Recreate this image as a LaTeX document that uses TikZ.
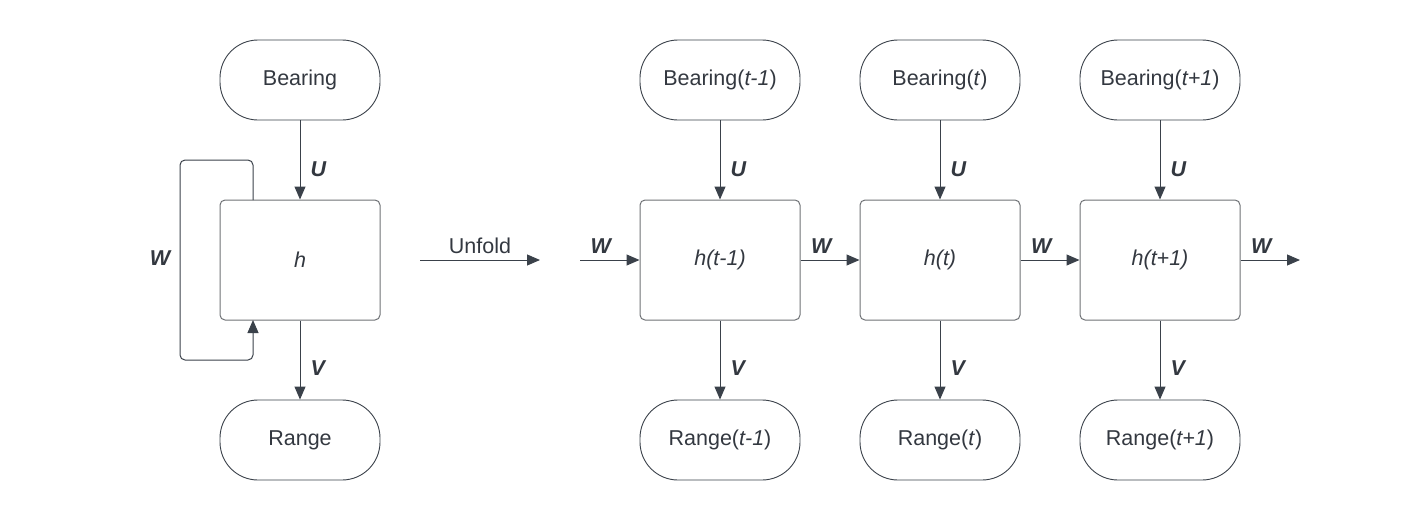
\documentclass[tikz,border=0pt]{standalone}
\usepackage{fontspec}
\setmainfont{Liberation Sans}
\usetikzlibrary{arrows.meta}
\definecolor{txt}{HTML}{333840}
\definecolor{edge}{HTML}{3A414A}
\definecolor{boxline}{HTML}{6E7175}
\tikzset{
  pill/.style={draw=edge, line width=0.9pt, rounded corners=38pt, minimum width=160pt, minimum height=80pt, inner sep=0pt, text=txt, font=\fontsize{21.5}{25}\selectfont},
  hbox/.style={draw=boxline, line width=1pt, rounded corners=5pt, minimum width=160pt, minimum height=120pt, inner sep=0pt, text=txt, font=\fontsize{21.5}{25}\selectfont\itshape},
  conn/.style={draw=edge, line width=1pt, -{Triangle[length=13pt,width=11pt]}},
  wlab/.style={text=txt, font=\fontsize{21.5}{25}\selectfont\bfseries\itshape, inner sep=0pt},
  plain/.style={text=txt, font=\fontsize{21.5}{25}\selectfont, inner sep=0pt}
}
\begin{document}
\begin{tikzpicture}[x=1pt,y=-1pt]
\useasboundingbox (0,0) rectangle (1420,520);
% folded
\node[pill] (B) at (300,80) {Bearing};
\node[hbox] (H) at (300,260) {h};
\node[pill] (R) at (300,440) {Range};
\draw[conn] (B) -- node[wlab, right=10pt, pos=0.62] {U} (H);
\draw[conn] (H) -- node[wlab, right=10pt, pos=0.6] {V} (R);
\coordinate (lt) at (253,200);
\coordinate (lb) at (253,320);
\draw[conn, rounded corners=5pt] (lt) -- (253,160) -- (180,160) -- (180,360) -- (253,360) -- (lb);
\node[wlab] (WL) at (160,258) {W};
% unfold
\coordinate (u1) at (420,260);
\coordinate (u2) at (540,260);
\draw[conn] (u1) -- node[plain, above=6pt] {Unfold} (u2);
% unfolded
\foreach \i/\x/\tb/\th in {a/720/Bearing(\textit{t-1})/h(t-1), b/940/Bearing(\textit{t})/h(t), c/1160/Bearing(\textit{t+1})/h(t+1)} {
  \node[pill] (B\i) at (\x,80) {\tb};
  \node[hbox] (H\i) at (\x,260) {\th};
  \draw[conn] (B\i) -- node[wlab, right=10pt, pos=0.62] {U} (H\i);
}
\node[pill] (Ra) at (720,440) {Range(\textit{t-1})};
\node[pill] (Rb) at (940,440) {Range(\textit{t})};
\node[pill] (Rc) at (1160,440) {Range(\textit{t+1})};
\draw[conn] (Ha) -- node[wlab, right=10pt, pos=0.6] {V} (Ra);
\draw[conn] (Hb) -- node[wlab, right=10pt, pos=0.6] {V} (Rb);
\draw[conn] (Hc) -- node[wlab, right=10pt, pos=0.6] {V} (Rc);
\coordinate (win) at (580,260);
\coordinate (wout) at (1300,260);
\draw[conn] (win) -- node[wlab, above=6pt, pos=0.35] {W} (Ha);
\draw[conn] (Ha) -- node[wlab, above=6pt, pos=0.35] {W} (Hb);
\draw[conn] (Hb) -- node[wlab, above=6pt, pos=0.35] {W} (Hc);
\draw[conn] (Hc) -- node[wlab, above=6pt, pos=0.35] {W} (wout);
\end{tikzpicture}
\end{document}
